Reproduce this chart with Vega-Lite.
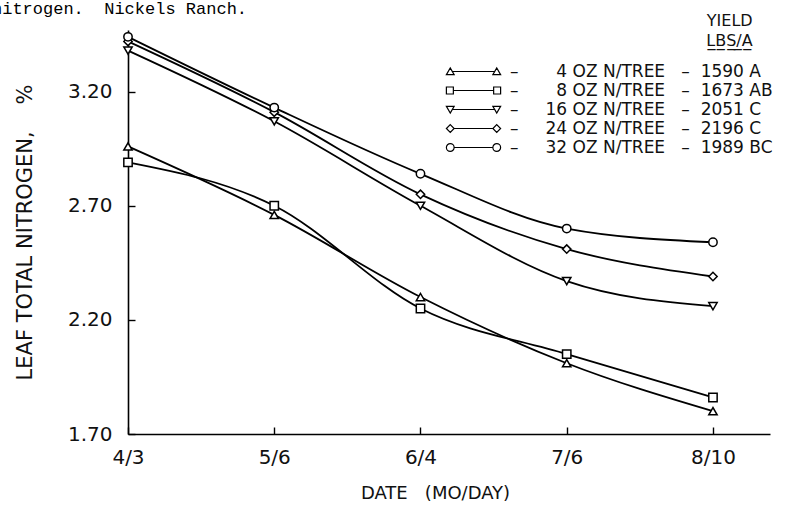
{
  "$schema": "https://vega.github.io/schema/vega-lite/v6.json",
  "width": 642,
  "height": 404,
  "autosize": {"type": "none"},
  "padding": {"left": 128, "top": 30, "right": 32, "bottom": 74},
  "background": "white",
  "title": {
    "text": "nitrogen.\u00a0\u00a0Nickels Ranch.",
    "anchor": "start",
    "font": "Liberation Mono",
    "fontSize": 17,
    "fontWeight": "normal",
    "color": "black",
    "offset": 0,
    "dx": -22,
    "dy": 5
  },
  "config": {
    "view": {"stroke": null},
    "axis": {
      "domainColor": "black",
      "domainWidth": 1.6,
      "tickColor": "black",
      "tickWidth": 1.4,
      "grid": false,
      "labelFont": "DejaVu Sans",
      "labelColor": "#111",
      "titleFont": "DejaVu Sans",
      "titleFontWeight": "normal",
      "titleColor": "#111"
    }
  },
  "data": {
    "values": [
      {"series": "4", "n": 1, "date": "4/3", "value": 2.96},
      {"series": "4", "n": 2, "date": "5/6", "value": 2.66},
      {"series": "4", "n": 3, "date": "6/4", "value": 2.30},
      {"series": "4", "n": 4, "date": "7/6", "value": 2.01},
      {"series": "4", "n": 5, "date": "8/10", "value": 1.80},
      {"series": "8", "n": 1, "date": "4/3", "value": 2.89},
      {"series": "8", "n": 2, "date": "5/6", "value": 2.70},
      {"series": "8", "n": 3, "date": "6/4", "value": 2.25},
      {"series": "8", "n": 4, "date": "7/6", "value": 2.05},
      {"series": "8", "n": 5, "date": "8/10", "value": 1.86},
      {"series": "16", "n": 1, "date": "4/3", "value": 3.38},
      {"series": "16", "n": 2, "date": "5/6", "value": 3.07},
      {"series": "16", "n": 3, "date": "6/4", "value": 2.70},
      {"series": "16", "n": 4, "date": "7/6", "value": 2.37},
      {"series": "16", "n": 5, "date": "8/10", "value": 2.26},
      {"series": "24", "n": 1, "date": "4/3", "value": 3.42},
      {"series": "24", "n": 2, "date": "5/6", "value": 3.11},
      {"series": "24", "n": 3, "date": "6/4", "value": 2.75},
      {"series": "24", "n": 4, "date": "7/6", "value": 2.51},
      {"series": "24", "n": 5, "date": "8/10", "value": 2.39},
      {"series": "32", "n": 1, "date": "4/3", "value": 3.44},
      {"series": "32", "n": 2, "date": "5/6", "value": 3.13},
      {"series": "32", "n": 3, "date": "6/4", "value": 2.84},
      {"series": "32", "n": 4, "date": "7/6", "value": 2.60},
      {"series": "32", "n": 5, "date": "8/10", "value": 2.54}
    ]
  },
  "encoding": {
    "x": {
      "field": "n",
      "type": "quantitative",
      "scale": {"domain": [1, 5.39], "nice": false, "zero": false},
      "axis": {
        "values": [1, 2, 3, 4, 5],
        "labelExpr": "['4/3','5/6','6/4','7/6','8/10'][datum.value-1]",
        "labelFlush": false,
        "labelFontSize": 20,
        "labelBaseline": "top",
        "labelPadding": 20,
        "tickSize": -7,
        "title": "DATE\u00a0\u00a0\u00a0(MO/DAY)",
        "titleFontSize": 18,
        "titleX": 307,
        "titleY": 64,
        "titleBaseline": "alphabetic"
      }
    },
    "y": {
      "field": "value",
      "type": "quantitative",
      "scale": {"domain": [1.7, 3.47], "nice": false, "zero": false},
      "axis": {
        "values": [1.7, 2.2, 2.7, 3.2],
        "format": ".2f",
        "labelFontSize": 20,
        "labelPadding": 23,
        "tickSize": -7,
        "title": "LEAF TOTAL NITROGEN,\u00a0\u00a0\u00a0\u00a0%",
        "titleFontSize": 21,
        "titleX": -103,
        "titleY": 202,
        "titleBaseline": "middle",
        "titleAnchor": "middle"
      }
    }
  },
  "layer": [
    {
      "mark": {"type": "line", "interpolate": "monotone", "color": "black", "strokeWidth": 1.8},
      "encoding": {"detail": {"field": "series"}}
    },
    {
      "mark": {"type": "point", "fill": "white", "stroke": "black", "strokeWidth": 1.5, "fillOpacity": 1, "opacity": 1, "size": 70},
      "encoding": {
        "shape": {
          "field": "series",
          "scale": {"domain": ["4", "8", "16", "24", "32"], "range": ["triangle-up", "square", "triangle-down", "diamond", "circle"]},
          "legend": null
        }
      }
    },
    {
      "mark": {"type": "point", "opacity": 0, "size": 60},
      "encoding": {
        "shape": {
          "field": "series",
          "scale": {
            "domain": ["4", "8", "16", "24", "32"],
            "range": [
              "M-7,0.8L-5,0.8L-6,-0.9Z M-5.5,0L5.5,0 M5,0.8L7,0.8L6,-0.9Z",
              "M-7,-0.9L-5.2,-0.9L-5.2,0.9L-7,0.9Z M-5.2,0L5.2,0 M5.2,-0.9L7,-0.9L7,0.9L5.2,0.9Z",
              "M-7,-0.8L-5,-0.8L-6,0.9Z M-5.5,0L5.5,0 M5,-0.8L7,-0.8L6,0.9Z",
              "M-6,-1L-5,0L-6,1L-7,0Z M-5,0L5,0 M6,-1L7,0L6,1L5,0Z",
              "M-5,0A1,1 0 1,1 -7,0A1,1 0 1,1 -5,0Z M-5,0L5,0 M7,0A1,1 0 1,1 5,0A1,1 0 1,1 7,0Z"
            ]
          },
          "legend": {
            "orient": "none",
            "legendX": 337,
            "legendY": -17,
            "padding": 0,
            "title": ["YIELD\u00a0\u00a0\u00a0\u00a0\u200b", "L\u0332B\u0332S\u0332/\u0332A\u0332\u00a0\u00a0\u00a0\u00a0\u200b"],
            "titleAnchor": "end",
            "titleAlign": "right",
            "titleFont": "DejaVu Sans",
            "titleFontSize": 16,
            "titleFontWeight": "normal",
            "titleColor": "#111",
            "titleLineHeight": 20,
            "titlePadding": 14,
            "labelFont": "DejaVu Sans",
            "labelFontSize": 17,
            "labelColor": "#111",
            "labelOffset": 28,
            "labelLimit": 500,
            "rowPadding": 1,
            "symbolSize": 60,
            "symbolOpacity": 1,
            "symbolFillColor": "white",
            "symbolStrokeColor": "black",
            "symbolStrokeWidth": 1.2,
            "labelExpr": "{'4': '–\u2007\u00a0\u00a0\u00a0\u00a0\u00a04 OZ N/TREE\u00a0\u00a0\u00a0–\u00a0\u00a01590 A', '8': '–\u2007\u00a0\u00a0\u00a0\u00a0\u00a08 OZ N/TREE\u00a0\u00a0\u00a0–\u00a0\u00a01673 AB', '16': '–\u00a0\u00a0\u00a0\u00a0\u00a016 OZ N/TREE\u00a0\u00a0\u00a0–\u00a0\u00a02051 C', '24': '–\u00a0\u00a0\u00a0\u00a0\u00a024 OZ N/TREE\u00a0\u00a0\u00a0–\u00a0\u00a02196 C', '32': '–\u00a0\u00a0\u00a0\u00a0\u00a032 OZ N/TREE\u00a0\u00a0\u00a0–\u00a0\u00a01989 BC'}[datum.label]"
          }
        }
      }
    }
  ],
  "resolve": {"scale": {"shape": "independent"}, "legend": {"shape": "independent"}}
}
